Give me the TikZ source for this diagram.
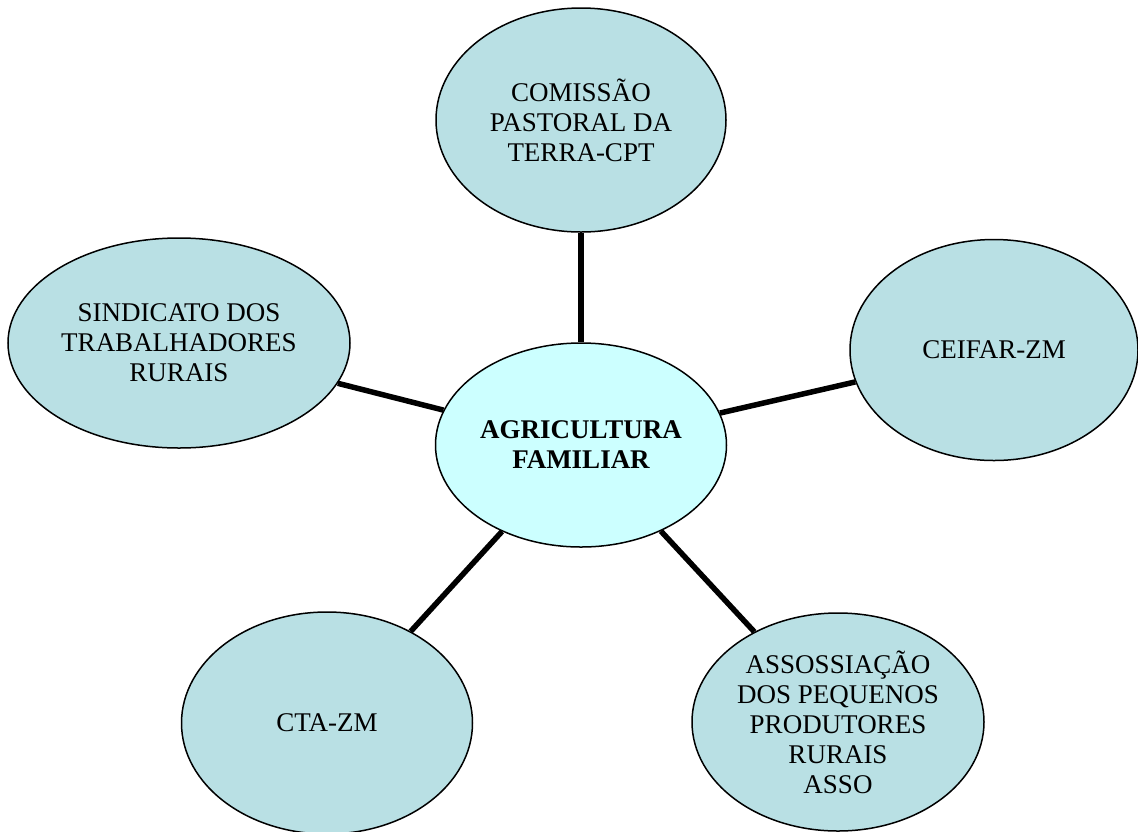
\documentclass[tikz,border=0pt]{standalone}
\usepackage{fontspec}
\setmainfont{Liberation Serif}
\usetikzlibrary{shapes.geometric}
\definecolor{orgfill}{RGB}{185,224,228}
\definecolor{hubfill}{RGB}{204,255,255}
\newcommand{\orgfont}{\fontsize{27}{30}\selectfont}

\begin{document}
\begin{tikzpicture}[x=1pt,y=-1pt,line width=1.5pt,
  org/.style={ellipse,draw,fill=orgfill,inner sep=0pt,align=center,font=\orgfont},
  hub/.style={org,fill=hubfill,font=\orgfont\bfseries},
  link/.style={line width=5.5pt}]
  \useasboundingbox (0,0) rectangle (1138,831);

  \node[hub,minimum width=291pt,minimum height=204pt] (1) at (581,445) {AGRICULTURA\\FAMILIAR};
  \node[org,minimum width=290pt,minimum height=224pt] (2) at (581,120) {COMISSÃO\\PASTORAL DA\\TERRA-CPT};
  \node[org,minimum width=342pt,minimum height=210pt] (3) at (179,343) {SINDICATO DOS\\TRABALHADORES\\RURAIS};
  \node[org,minimum width=288pt,minimum height=221pt] (4) at (994,350) {CEIFAR-ZM};
  \node[org,minimum width=291pt,minimum height=222pt] (5) at (327,723) {CTA-ZM};
  \node[org,minimum width=292pt,minimum height=218pt] (6) at (838,722) {ASSOSSIAÇÃO\\DOS PEQUENOS\\PRODUTORES\\RURAIS\\ASSO};

  \path[link]
    (1) edge (2)
        edge (3)
        edge (4)
        edge (5)
        edge (6);
\end{tikzpicture}
\end{document}
